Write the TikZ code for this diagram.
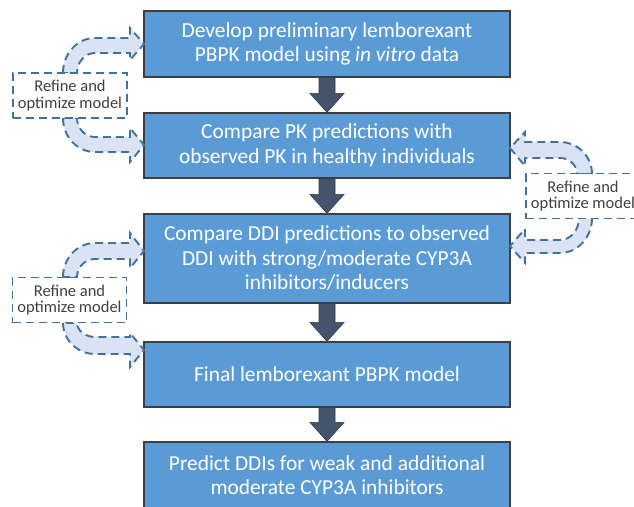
\documentclass[tikz,border=0pt]{standalone}
\usepackage{fontspec}
\setmainfont{Carlito}
\usetikzlibrary{calc}
\definecolor{boxblue}{HTML}{5B9BD5}
\definecolor{boxline}{HTML}{3F3F3F}
\definecolor{arrdark}{HTML}{44546A}
\definecolor{arrline}{HTML}{2F3B4C}
\definecolor{dashblue}{HTML}{41719C}
\definecolor{lightfill}{HTML}{DAE3F3}
\definecolor{txtgray}{HTML}{404040}
\tikzset{
  stepbox/.style={draw=boxline, line width=1.2pt, fill=boxblue, text=white, align=center,
    minimum width=366pt, font=\fontsize{21.4}{24.5}\selectfont, inner sep=0pt},
  refinebox/.style={draw=dashblue, line width=1.9pt, dash pattern=on 8pt off 5pt, fill=white,
    text=txtgray, align=center, minimum width=114pt, minimum height=45pt, inner sep=0pt,
    font=\fontsize{16.5}{16.5}\selectfont},
  darr/.style={fill=arrdark, draw=arrline, line width=0.6pt, line join=miter},
  carr/.style={fill=lightfill, draw=dashblue, line width=1.9pt, dash pattern=on 8pt off 5pt, line join=miter}
}
\newcommand{\flowarrow}[2]{%
  \draw[darr] let \p1=(#1.south), \p2=(#2.north) in
    (\x1-8pt,\y1) -- (\x1-8pt,\y2+19pt) -- (\x1-17pt,\y2+19pt) -- (\x1,\y2) --
    (\x1+17pt,\y2+19pt) -- (\x1+8pt,\y2+19pt) -- (\x1+8pt,\y1) -- cycle;}
\begin{document}
\begin{tikzpicture}[x=1pt,y=-1pt]
\useasboundingbox (0,0) rectangle (634,506);
% main boxes
\node[stepbox, minimum height=66pt] (b1) at (327,44) {Develop preliminary lemborexant\\PBPK model using \textit{in vitro} data};
\node[stepbox, minimum height=65pt] (b2) at (327,145.5) {Compare PK predictions with\\observed PK in healthy individuals};
\node[stepbox, minimum height=89pt] (b3) at (327,258.5) {Compare DDI predictions to observed\\DDI with strong/moderate CYP3A\\inhibitors/inducers};
\node[stepbox, minimum height=65pt] (b4) at (327,374.5) {Final lemborexant PBPK model};
\node[stepbox, minimum height=66pt] (b5) at (327,475) {Predict DDIs for weak and additional\\moderate CYP3A inhibitors};
% down arrows
\flowarrow{b1}{b2}
\flowarrow{b2}{b3}
\flowarrow{b3}{b4}
\flowarrow{b4}{b5}
% curved arrows, left group 1
\draw[carr] (63,73) .. controls (63,53.7) and (77.3,38) .. (95,38) -- (130,38) -- (130,28) -- (144,44)
  -- (130,60) -- (130,53) -- (95,53) .. controls (85.1,53) and (77,62) .. (77,73) -- cycle;
\draw[carr] (63,118) .. controls (63,136.8) and (77.3,152) .. (95,152) -- (130,152) -- (130,162) -- (144,145)
  -- (130,128) -- (130,137) -- (95,137) .. controls (85.1,137) and (77,128.5) .. (77,118) -- cycle;
% left group 2
\draw[carr] (63,277) .. controls (63,258.2) and (77.3,243) .. (95,243) -- (130,243) -- (130,233) -- (144,251)
  -- (130,268) -- (130,259) -- (95,259) .. controls (85.1,259) and (77,267.1) .. (77,277) -- cycle;
\draw[carr] (63,323) .. controls (63,339.6) and (77.3,354) .. (95,354) -- (130,354) -- (130,367) -- (144,350)
  -- (130,333) -- (130,337) -- (95,337) .. controls (85.1,337) and (77,330.2) .. (77,323) -- cycle;
% right group
\draw[carr] (592,174) .. controls (592,156.3) and (577.7,142) .. (560,142) -- (525,142) -- (525,132) -- (510,148)
  -- (525,166) -- (525,158) -- (560,158) .. controls (569.4,158) and (577,165.2) .. (577,174) -- cycle;
\draw[carr] (592,218) .. controls (592,237.3) and (577.7,253) .. (560,253) -- (525,253) -- (525,263) -- (510,246)
  -- (525,229) -- (525,240) -- (560,240) .. controls (571,240) and (579,229.6) .. (579,218) -- cycle;
% refine boxes
\node[refinebox] (r1) at (70,95.5) {Refine and\\optimize model};
\node[refinebox] (r2) at (69.5,300) {Refine and\\optimize model};
\node[refinebox] (r3) at (583,196) {Refine and\\optimize model};
\end{tikzpicture}
\end{document}
